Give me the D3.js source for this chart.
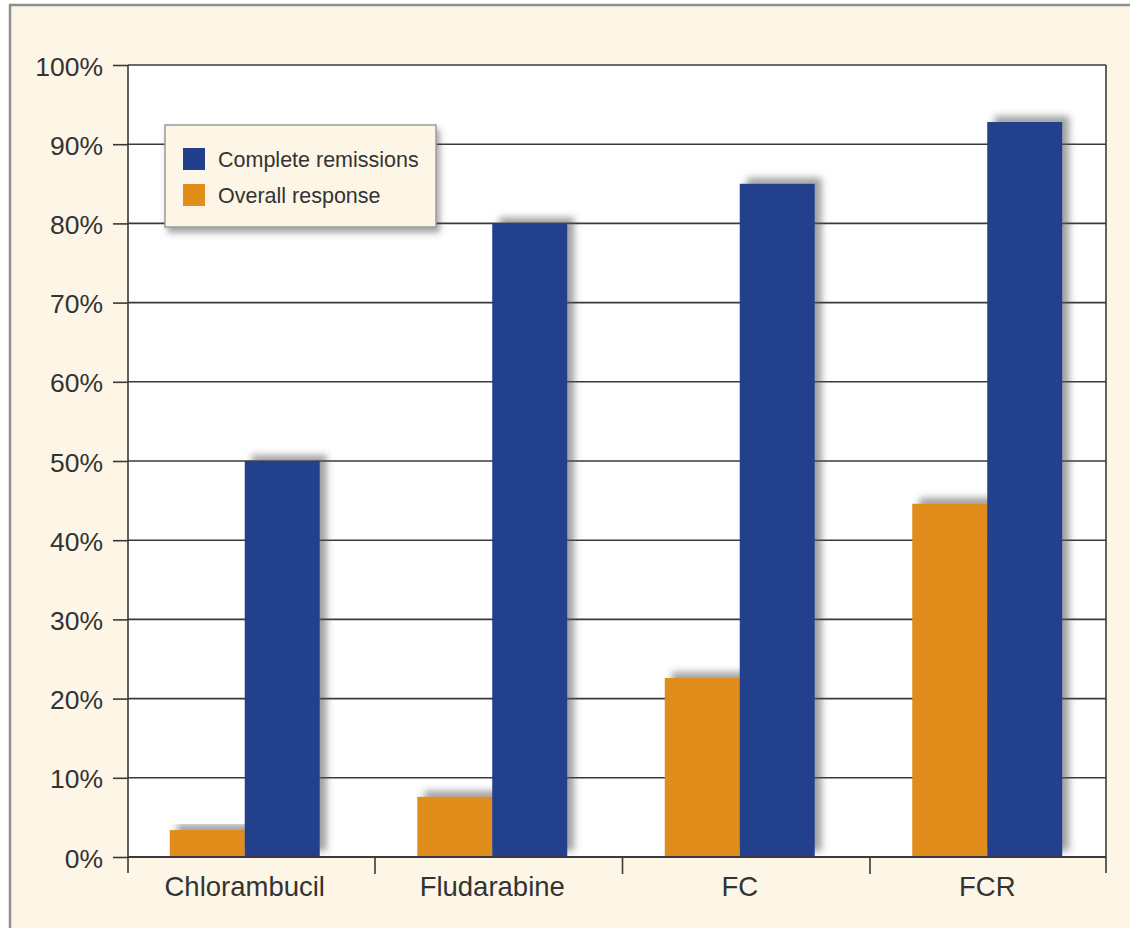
<!DOCTYPE html>
<html>
<head>
<meta charset="utf-8">
<script src="https://cdn.jsdelivr.net/npm/d3@7"></script>
<style>
  html, body { margin: 0; padding: 0; background: #ffffff; }
  svg { display: block; }
  text { font-family: "Liberation Sans", Arial, Helvetica, sans-serif; fill: #333333; }
</style>
</head>
<body>
<svg id="chart" width="1130" height="928"></svg>
<script>
// Response rates by regimen (percent)
const categories = ["Chlorambucil", "Fludarabine", "FC", "FCR"];
const seriesNames = ["Complete remissions", "Overall response"];
const completeRemissions = [50, 80, 85, 92.8];
const overallResponse = [3.4, 7.6, 22.6, 44.6];
const yTicks = [0, 10, 20, 30, 40, 50, 60, 70, 80, 90, 100];

const colors = { "Complete remissions": "#223f8c", "Overall response": "#e08d1a" };

const W = 1130, H = 928;
const plot = { left: 128, right: 1106, top: 65, bottom: 857 };

const svg = d3.select("#chart");

// filters for the soft shadows behind bars and legend
const defs = svg.append("defs");
const barShadow = defs.append("filter").attr("id", "barShadow")
  .attr("x", "-20%").attr("y", "-20%").attr("width", "150%").attr("height", "150%");
barShadow.append("feDropShadow").attr("dx", 7).attr("dy", -6).attr("stdDeviation", 3.5)
  .attr("flood-color", "#555").attr("flood-opacity", 0.55);
const boxShadow = defs.append("filter").attr("id", "boxShadow")
  .attr("x", "-10%").attr("y", "-20%").attr("width", "130%").attr("height", "150%");
boxShadow.append("feDropShadow").attr("dx", 3).attr("dy", 5).attr("stdDeviation", 3)
  .attr("flood-color", "#444").attr("flood-opacity", 0.5);

// outer cream panel with a grey frame
svg.append("rect").attr("x", 10).attr("y", 5).attr("width", W + 10).attr("height", H + 10)
  .attr("fill", "#fdf6e6").attr("stroke", "#8f8f8f").attr("stroke-width", 2.5);

// white plotting area
svg.append("rect").attr("x", plot.left).attr("y", plot.top)
  .attr("width", plot.right - plot.left).attr("height", plot.bottom - plot.top)
  .attr("fill", "#ffffff");

const y = d3.scaleLinear().domain([0, 100]).range([plot.bottom, plot.top]);
const x0 = d3.scaleBand().domain(categories).range([121, 1111]).padding(0);
const inner = d3.scaleBand().domain(["Overall response", "Complete remissions"])
  .range([x0.bandwidth() * 0.197, x0.bandwidth() * 0.803]).padding(0);

// horizontal gridlines
svg.append("g").selectAll("line").data(yTicks).join("line")
  .attr("x1", plot.left).attr("x2", plot.right)
  .attr("y1", d => y(d)).attr("y2", d => y(d))
  .attr("stroke", "#3a3a3a").attr("stroke-width", 1.6);

// y axis: ticks pointing left, labels with percent sign
const yAxis = d3.axisLeft(y).tickValues(yTicks).tickSize(15).tickPadding(10)
  .tickFormat(d => d + "%");
const gy = svg.append("g").attr("transform", `translate(${plot.left},0)`).call(yAxis);
gy.select(".domain").remove();
gy.selectAll(".tick line").attr("stroke", "#3a3a3a").attr("stroke-width", 1.6);
gy.selectAll(".tick text").attr("font-size", 26.5).attr("fill", "#333")
  .attr("dy", "0.38em")
  .attr("font-family", "Liberation Sans, Arial, sans-serif");

// bars
const rows = categories.map((c, i) => ({
  category: c,
  values: [
    { key: "Overall response", value: overallResponse[i] },
    { key: "Complete remissions", value: completeRemissions[i] }
  ]
}));

const groups = svg.append("g").selectAll("g").data(rows).join("g")
  .attr("transform", d => `translate(${x0(d.category)},0)`);
groups.selectAll("rect").data(d => d.values).join("rect")
  .attr("x", d => inner(d.key))
  .attr("width", inner.bandwidth())
  .attr("y", d => y(d.value))
  .attr("height", d => y(0) - y(d.value))
  .attr("fill", d => colors[d.key])
  .attr("filter", "url(#barShadow)");

// vertical axis lines on both sides of the plot
svg.append("line").attr("x1", plot.left).attr("x2", plot.left)
  .attr("y1", plot.top).attr("y2", plot.bottom + 16)
  .attr("stroke", "#3a3a3a").attr("stroke-width", 1.6);
svg.append("line").attr("x1", plot.right).attr("x2", plot.right)
  .attr("y1", plot.top).attr("y2", plot.bottom + 16)
  .attr("stroke", "#3a3a3a").attr("stroke-width", 1.6);
// baseline
svg.append("line").attr("x1", plot.left).attr("x2", plot.right)
  .attr("y1", y(0)).attr("y2", y(0))
  .attr("stroke", "#3a3a3a").attr("stroke-width", 1.8);

// category separator ticks below the baseline
svg.append("g").selectAll("line").data(categories.slice(0, -1)).join("line")
  .attr("x1", d => x0(d) + x0.step() + 6.5).attr("x2", d => x0(d) + x0.step() + 6.5)
  .attr("y1", y(0)).attr("y2", y(0) + 17)
  .attr("stroke", "#3a3a3a").attr("stroke-width", 1.6);

// category labels
svg.append("g").selectAll("text").data(categories).join("text")
  .attr("x", d => x0(d) + x0.bandwidth() / 2)
  .attr("y", y(0) + 39)
  .attr("text-anchor", "middle")
  .attr("font-size", 27.5)
  .text(d => d);

// legend
const legend = svg.append("g").attr("transform", "translate(165,125)");
legend.append("rect").attr("width", 271).attr("height", 102)
  .attr("fill", "#fdf6e6").attr("stroke", "#9a9a9a").attr("stroke-width", 1.5)
  .attr("filter", "url(#boxShadow)");
const items = legend.selectAll("g.item").data(seriesNames).join("g")
  .attr("class", "item")
  .attr("transform", (d, i) => `translate(18,${23 + i * 36})`);
items.append("rect").attr("width", 22).attr("height", 22)
  .attr("fill", d => colors[d]);
items.append("text").attr("x", 35).attr("y", 19)
  .attr("font-size", 21.5).text(d => d);
</script>
</body>
</html>
